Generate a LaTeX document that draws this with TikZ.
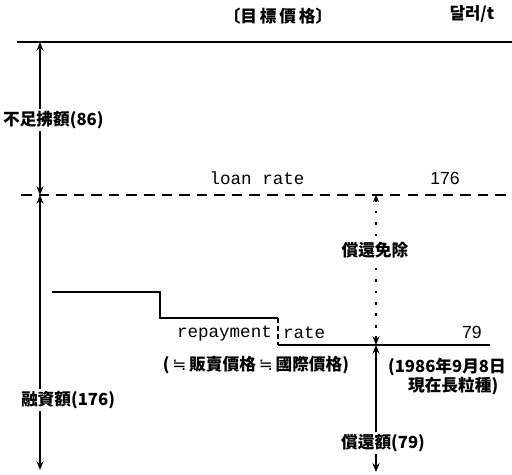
\documentclass[tikz,border=0pt]{standalone}
\usepackage{fontspec}
\usetikzlibrary{arrows.meta}
\setmainfont{Liberation Sans}
\newfontfamily\cjk{Noto Sans CJK KR}
\newfontfamily\symb{DejaVu Sans}
\newfontfamily\mono{Liberation Mono}
\newcommand{\nearlyeq}{{\symb\mdseries\,≒\,}}
\begin{document}
\begin{tikzpicture}[x=0.02cm,y=-0.02cm]
          \tikzstyle{level}=[draw, line width=1.1pt]
          \tikzstyle{loan}=[draw, thick, dash pattern=on 6pt off 4pt]
          \tikzstyle{dim}=[draw, thick, {Stealth[length=5pt,width=4pt]}-{Stealth[length=5pt,width=4pt]}]
          \tikzstyle{free}=[draw, thick, dash pattern=on 1.5pt off 5pt, {Stealth[length=4pt,width=3.5pt]}-{Stealth[length=5pt,width=4pt]}]
          \tikzstyle{hanja}=[font=\cjk\bfseries\fontsize{9.5}{11}\selectfont, inner sep=1pt]
          \tikzstyle{latin}=[font=\mono\fontsize{10}{12}\selectfont, inner sep=1pt]
          \tikzstyle{num}=[font=\fontsize{10}{12}\selectfont, inner sep=1pt]
          \useasboundingbox (0,0) rectangle (512,475);
          \begin{scope}
             % price levels
             \coordinate (target-l) at (17,42);
             \coordinate (target-r) at (512,42);
             \coordinate (loan-l) at (21,195);
             \coordinate (loan-r) at (512,195);
             \path[level] (target-l) -- (target-r);
             \path[loan] (loan-l) -- (loan-r);
             \node [hanja] (target) at (278,16) {〔目\,標\,價\,格〕};
             \node [hanja] (unit) at (472,14) {달러/t};
             \node [latin] (loanrate) at (257,178) {loan rate};
             \node [num] (loanval) at (445,178) {176};
             % repayment rate steps
             \coordinate (r1) at (52,292);
             \coordinate (r2) at (160,292);
             \coordinate (r3) at (160,318);
             \coordinate (r4) at (278,318);
             \coordinate (r5) at (278,345);
             \coordinate (r6) at (490,345);
             \path[level, line width=0.9pt] (r1) -- (r2) -- (r3) -- (r4);
             \path[draw, thick, dash pattern=on 3pt off 1.5pt] (r4) -- (r5);
             \path[level] (r5) -- (r6);
             \node [latin, anchor=east] (repay) at (274,333) {repayment};
             \node [latin, anchor=west] (rate) at (281,333) {rate};
             \node [num] (repayval) at (472,332) {79};
             \node [hanja] (intl) at (256,365) {(\nearlyeq 販賣價格\nearlyeq 國際價格)};
             \node [hanja, anchor=west] (date1) at (386,367) {(1986年9月8日};
             \node [hanja, anchor=west] (date2) at (406,386) {現在長粒種)};
             % amounts
             \coordinate (a-top) at (40,42);
             \coordinate (a-mid) at (40,195);
             \coordinate (a-bot) at (40,470);
             \coordinate (b-top) at (376,195);
             \coordinate (b-mid) at (376,345);
             \coordinate (b-bot) at (376,472);
             \path[dim] (a-top) -- (a-mid);
             \path[dim] (a-mid) -- (a-bot);
             \path[free] (b-top) -- (b-mid);
             \path[dim] (b-mid) -- (b-bot);
             \node [hanja, fill=white, anchor=west] (deficit) at (1,120) {不足拂額(86)};
             \node [hanja, fill=white] (loanamt) at (68,400) {融資額(176)};
             \node [hanja, fill=white] (exempt) at (375,250) {償還免除};
             \node [hanja, fill=white] (repayamt) at (383,443) {償還額(79)};
          \end{scope}
        \end{tikzpicture}
\end{document}
